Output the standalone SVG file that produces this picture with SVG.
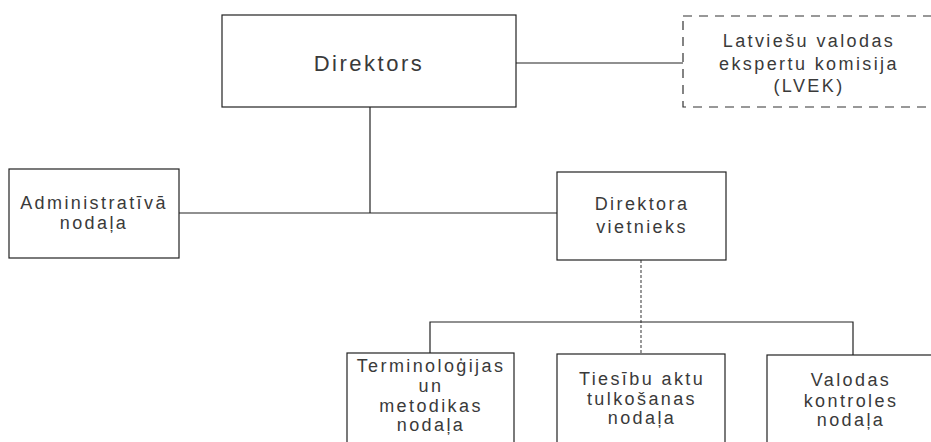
<svg xmlns="http://www.w3.org/2000/svg" width="931" height="442" viewBox="0 0 931 442">
<style>
.box{fill:#fff;stroke:#222;stroke-width:1.2}
.dash{fill:#fff;stroke:#333;stroke-width:1.2;stroke-dasharray:9 7}
.ln{fill:none;stroke:#222;stroke-width:1.2}
.dl{fill:none;stroke:#555;stroke-width:1.2;stroke-dasharray:3 2}
text{font-family:"Liberation Sans",Arial,sans-serif;fill:#3a3a3a;text-anchor:middle}
.big{font-size:22px;letter-spacing:2.5px}
.t{font-size:18px;letter-spacing:2.4px}
</style>
<rect width="931" height="442" fill="#fff"/>
<g id="connectors">
<path class="ln" d="M516 63H683"/>
<path class="ln" d="M370 107V213"/>
<path class="ln" d="M179 213H557"/>
<path class="dl" d="M641 260V354"/>
<path class="ln" d="M430 353V322H853V355"/>
</g>
<g id="direktors">
<rect class="box" x="222" y="15" width="294" height="92"/>
<text class="big" x="369" y="71">Direktors</text>
</g>
<g id="lvek">
<rect class="dash" x="683" y="16" width="260" height="91"/>
<text class="t" x="809" y="47">Latviešu valodas</text>
<text class="t" x="809" y="70">ekspertu komisija</text>
<text class="t" x="809" y="92">(LVEK)</text>
</g>
<g id="administrativa">
<rect class="box" x="9" y="169" width="170" height="89"/>
<text class="t" x="94" y="209">Administratīvā</text>
<text class="t" x="94" y="229">nodaļa</text>
</g>
<g id="vietnieks">
<rect class="box" x="557" y="172" width="169" height="88"/>
<text class="t" x="642" y="210">Direktora</text>
<text class="t" x="642" y="233">vietnieks</text>
</g>
<g id="terminologijas">
<rect class="box" x="347" y="353" width="167" height="100"/>
<text class="t" x="431" y="372">Terminoloģijas</text>
<text class="t" x="431" y="392">un</text>
<text class="t" x="431" y="412">metodikas</text>
<text class="t" x="431" y="431">nodaļa</text>
</g>
<g id="tiesibu">
<rect class="box" x="557" y="354" width="168" height="100"/>
<text class="t" x="642" y="385">Tiesību aktu</text>
<text class="t" x="642" y="405">tulkošanas</text>
<text class="t" x="642" y="424">nodaļa</text>
</g>
<g id="valodas">
<rect class="box" x="767" y="355" width="176" height="100"/>
<text class="t" x="851" y="386">Valodas</text>
<text class="t" x="851" y="407">kontroles</text>
<text class="t" x="851" y="426">nodaļa</text>
</g>
</svg>
